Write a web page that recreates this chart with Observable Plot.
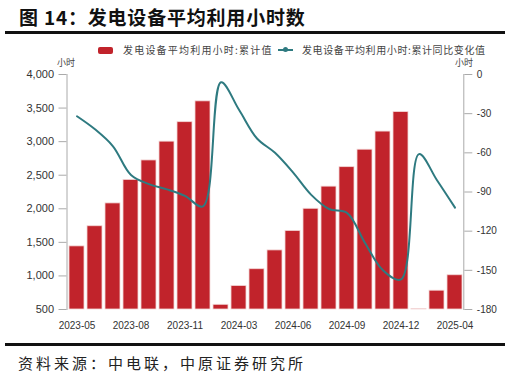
<!DOCTYPE html>
<html><head><meta charset="utf-8">
<script src="https://cdn.jsdelivr.net/npm/d3@7"></script>
<script src="https://cdn.jsdelivr.net/npm/@observablehq/plot@0.6"></script>
<style>
html,body{margin:0;padding:0;background:#fff;}
#wrap{position:relative;width:511px;height:378px;overflow:hidden;font-family:"Noto Sans CJK SC","Noto Sans",sans-serif;}
.abs{position:absolute;white-space:nowrap;}
#title{left:19px;top:5px;font-size:19px;font-weight:700;letter-spacing:0.8px;color:#111;line-height:24px;}
.rule{position:absolute;left:5px;width:500px;height:3px;background:#111;}
.leg{font-size:10px;color:#444;line-height:12px;}
.unit{font-size:9px;color:#444;line-height:9px;}
#src{left:18px;top:353px;font-size:15px;letter-spacing:3px;color:#222;line-height:20px;}
#chart{position:absolute;left:0;top:40px;}
</style></head>
<body><div id="wrap">
<div id="title" class="abs">图 14：发电设备平均利用小时数</div>
<div class="rule" style="top:31px"></div>
<div class="abs" style="left:98px;top:47px;width:15px;height:7px;background:#C1232B;border-radius:2px"></div>
<div class="abs leg" style="left:123px;top:44px;letter-spacing:1.2px">发电设备平均利用小时:累计值</div>
<div class="abs" style="left:278px;top:49px;width:15px;height:2px;background:#2E7A80"></div>
<div class="abs" style="left:283px;top:47px;width:5px;height:5px;background:#2E7A80;border-radius:50%"></div>
<div class="abs leg" style="left:302px;top:44px;letter-spacing:0.6px">发电设备平均利用小时:累计同比变化值</div>
<div class="abs unit" style="left:57px;top:58px">小时</div>
<div class="abs unit" style="left:455px;top:58px">小时</div>
<div id="chart"></div>
<div class="rule" style="top:343px"></div>
<div id="src" class="abs">资料来源：中电联，中原证券研究所</div>
</div>
<script>
const months = ["2023-05","2023-06","2023-07","2023-08","2023-09","2023-10","2023-11","2023-12",
  "2024-02","2024-03","2024-04","2024-05","2024-06","2024-07","2024-08","2024-09","2024-10","2024-11","2024-12",
  "2025-02","2025-03","2025-04"];
const hours = [1440,1740,2080,2430,2720,3000,3290,3600,
  570,850,1100,1380,1670,2000,2330,2620,2880,3150,3440,
  508,780,1010];
const yoyChange = [-32,-42,-55,-77,-84,-88,-93,-101,
  -6,-27,-49,-60,-75,-92,-103,-106,-129,-150,-157,
  -61,-81,-102];
const xTickLabels = ["2023-05","2023-08","2023-11","2024-03","2024-06","2024-09","2024-12","2025-04"];
const leftTicks = [500,1000,1500,2000,2500,3000,3500,4000];
const rightTicks = [0,-30,-60,-90,-120,-150,-180];

const L0 = 500, L1 = 4000, R0 = -180, R1 = 0;
const toLeft = v => L0 + (v - R0) * (L1 - L0) / (R1 - R0);
const toRight = d => Math.round(R0 + (d - L0) * (R1 - R0) / (L1 - L0));

const barData = months.map((m, i) => ({m, v: hours[i]}));
const lineData = months.map((m, i) => ({m, v: toLeft(yoyChange[i])}));

const chart = Plot.plot({
  width: 511, height: 300,
  marginTop: 34, marginBottom: 31, marginLeft: 66.5, marginRight: 47.7,
  style: {fontFamily: "'Liberation Sans', Arial, sans-serif", fontSize: "11px", color: "#333", background: "transparent"},
  x: {type: "band", domain: months, paddingInner: 0.19, paddingOuter: 0.05, axis: null},
  y: {domain: [L0, L1], axis: null},
  marks: [
    Plot.barY(barData, {x: "m", y1: L0, y2: "v", fill: "#C1232B", stroke: "#f3d6d6", strokeWidth: 0.8}),
    Plot.frame({anchor: "left", stroke: "#aaa"}),
    Plot.frame({anchor: "right", stroke: "#aaa"}),
    Plot.axisY({anchor: "left", ticks: leftTicks, tickFormat: d3.format(","), tickSize: 8, tickPadding: 5, stroke: "#aaa", fill: "#333", fontSize: 11, label: null}),
    Plot.axisY({anchor: "right", ticks: rightTicks.map(toLeft), tickFormat: toRight, tickSize: 8, tickPadding: 5, stroke: "#aaa", fill: "#333", fontSize: 10, label: null}),
    Plot.axisX({anchor: "bottom", ticks: xTickLabels, tickSize: 0, tickPadding: 12, fill: "#333", fontSize: 10, label: null}),
    Plot.line(lineData, {x: "m", y: "v", stroke: "#2E7A80", strokeWidth: 2, curve: "catmull-rom"})
  ]
});
document.getElementById("chart").appendChild(chart);
</script>
</body></html>
